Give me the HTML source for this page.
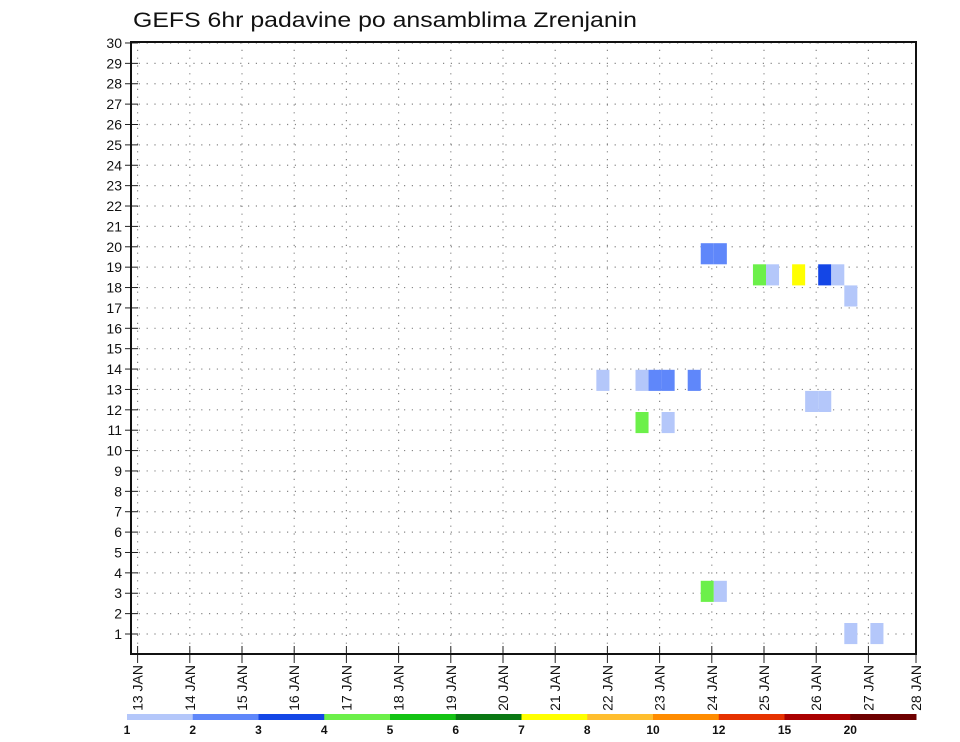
<!DOCTYPE html>
<html><head><meta charset="utf-8"><style>
html,body{margin:0;padding:0;background:#fff;}
svg{display:block;font-family:"Liberation Sans",sans-serif;}
</style></head><body>
<svg id="chart" width="960" height="742" viewBox="0 0 960 742">
<text x="133" y="27" font-size="21" textLength="504" lengthAdjust="spacingAndGlyphs" fill="#111">GEFS 6hr padavine po ansamblima Zrenjanin</text>
<g id="grid"></g><g id="cells"></g><g id="axes"></g><g id="legend"></g>
</svg>
<script>
// data
const dayLabels = ["13 JAN","14 JAN","15 JAN","16 JAN","17 JAN","18 JAN","19 JAN","20 JAN","21 JAN","22 JAN","23 JAN","24 JAN","25 JAN","26 JAN","27 JAN","28 JAN"];
const memberTicks = [1,2,3,4,5,6,7,8,9,10,11,12,13,14,15,16,17,18,19,20,21,22,23,24,25,26,27,28,29,30];
// cells: start time (hours since 13 JAN 00z), ensemble member, 6hr precip (mm)
const cellHours   = [210,228,234,240,252, 228,240, 258,264, 258,264, 282,288,300,312,318, 324, 306,312, 324,336];
const cellMembers = [13,13,13,13,13, 11,11, 19,19, 3,3, 18,18,18,18,18, 17, 12,12, 1,1];
const cellValues  = [1.5,1.5,2.5,2.5,2.5, 4.5,1.5, 2.5,2.5, 4.5,1.5, 4.5,1.5,7.5,3.5,1.5, 1.5, 1.5,1.5, 1.5,1.5];
const legendLevels = [1,2,3,4,5,6,7,8,10,12,15,20];
const legendColors = ["#b4c7fa","#5f87fa","#1446e6","#6cf04a","#14c314","#0a7814","#ffff00","#ffbe2e","#ff8c00","#e63200","#aa0000","#6e0000"];

const NS="http://www.w3.org/2000/svg";
const X0=137.6, DAY=52.2, L=131, R=916, T=42, B=654;
const xScale=h=>X0+h/24*DAY;
const yTick=m=>634-(m-1)*20.38;
const yCell=m=>633.5-(m-1)*21.1;
function colorFor(v){let c=legendColors[0];for(let i=0;i<legendLevels.length;i++){if(v>=legendLevels[i])c=legendColors[i];}return c;}
function mk(tag,attrs,parent){const e=document.createElementNS(NS,tag);for(const k in attrs)e.setAttribute(k,attrs[k]);parent.appendChild(e);return e;}
const grid=document.getElementById('grid'),cells=document.getElementById('cells'),axes=document.getElementById('axes'),legend=document.getElementById('legend');

memberTicks.forEach(m=>{
  const y=yTick(m);
  const g=mk('line',{x1:L,x2:R,y1:y,y2:y,stroke:'#888','stroke-width':1.2,'stroke-dasharray':'1.2,6.6'},grid);
  
  
  const t=mk('line',{x1:125,x2:138,y1:y,y2:y,stroke:'#222','stroke-width':1},axes);
  
  
  const lb=mk('text',{x:122,y:y+5,'text-anchor':'end','font-size':14,fill:'#111'},axes);
  lb.textContent=m;
  
  
});
dayLabels.forEach((d,i)=>{
  const x=xScale(i*24);
  if(x<R-2){
    const g=mk('line',{x1:x,x2:x,y1:T,y2:B,stroke:'#888','stroke-width':1.2,'stroke-dasharray':'1.2,6.6'},grid);
    
    
  }
  const tx=Math.min(x,R);
  const t=mk('line',{x1:tx,x2:tx,y1:646,y2:663,stroke:'#222','stroke-width':1},axes);
  
  
  const lb=mk('text',{x:0,y:0,'text-anchor':'end','font-size':14,fill:'#111',transform:`translate(${tx+5},${665}) rotate(-90)`},axes);
  lb.textContent=d;
  
  
});
cellHours.forEach((h,i)=>{
  const x=xScale(h)+2, w=xScale(h+6)-xScale(h), m=cellMembers[i];
  const r=mk('rect',{x:x,y:yCell(m)-10.5,width:w,height:21.1,fill:colorFor(cellValues[i])},cells);
  
  
});
const f=mk('rect',{x:L,y:T,width:R-L,height:B-T,fill:'none',stroke:'#111','stroke-width':2},axes);


const LW=(916-127)/legendColors.length;
legendColors.forEach((c,i)=>{
  const r=mk('rect',{x:127+i*LW,y:714,width:LW+0.5,height:6,fill:c},legend);
  
  
  const t=mk('text',{x:127+i*LW,y:734,'text-anchor':'middle','font-size':12,'font-weight':'bold',fill:'#111'},legend);
  t.textContent=legendLevels[i];
  
  
});
</script>
</body></html>
